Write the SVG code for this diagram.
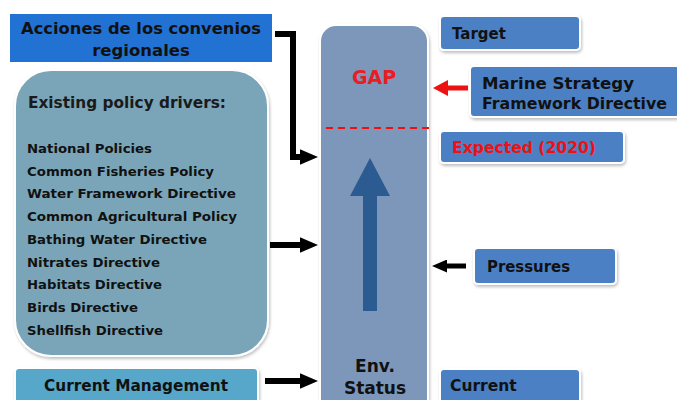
<svg xmlns="http://www.w3.org/2000/svg" width="677" height="400" viewBox="0 0 677 400">
<defs>
<filter id="sh" x="-10%" y="-10%" width="120%" height="130%">
<feDropShadow dx="1" dy="2" stdDeviation="1.5" flood-color="#000" flood-opacity="0.25"/>
</filter>
<marker id="ab" viewBox="0 0 3 2.6" markerWidth="3" markerHeight="2.6" refX="0" refY="1.3" orient="auto" markerUnits="strokeWidth">
<path d="M0,0 L3,1.3 L0,2.6 Z" fill="#000"/>
</marker>
<marker id="ar" viewBox="0 0 3 3.2" markerWidth="3" markerHeight="3.2" refX="0" refY="1.6" orient="auto" markerUnits="strokeWidth">
<path d="M0,0 L3,1.6 L0,3.2 Z" fill="#ee1111"/>
</marker>
<style>
.t{font-family:"DejaVu Sans",Verdana,sans-serif;font-weight:bold;fill:#111}
.box{stroke:#fff;stroke-width:2;filter:url(#sh)}
.rb{fill:#4b80c5}
.c{fill:none;stroke:#000;stroke-width:6}
</style>
</defs>
<rect width="677" height="400" fill="#fff"/>
<g id="acciones">
<rect x="10" y="14" width="262" height="48" fill="#2272d4"/>
<text class="t" x="141" y="34" font-size="16.5" text-anchor="middle" textLength="240" lengthAdjust="spacingAndGlyphs">Acciones de los convenios</text>
<text class="t" x="141" y="56" font-size="16.5" text-anchor="middle">regionales</text>
</g>
<g id="drivers">
<rect class="box" x="15" y="70" width="253" height="286" rx="36" fill="#7aa5b8"/>
<text x="28" y="108" font-family="DejaVu Sans,Verdana,sans-serif" font-weight="bold" font-size="16" fill="#1a1a1a" textLength="198" lengthAdjust="spacingAndGlyphs">Existing policy drivers:</text>
<g class="t" font-size="13">
<text x="27" y="153" textLength="125" lengthAdjust="spacingAndGlyphs">National Policies</text>
<text x="27" y="176" textLength="187" lengthAdjust="spacingAndGlyphs">Common Fisheries Policy</text>
<text x="27" y="198" textLength="209" lengthAdjust="spacingAndGlyphs">Water Framework Directive</text>
<text x="27" y="221" textLength="210" lengthAdjust="spacingAndGlyphs">Common Agricultural Policy</text>
<text x="27" y="244" textLength="180" lengthAdjust="spacingAndGlyphs">Bathing Water Directive</text>
<text x="27" y="267" textLength="133" lengthAdjust="spacingAndGlyphs">Nitrates Directive</text>
<text x="27" y="289" textLength="135" lengthAdjust="spacingAndGlyphs">Habitats Directive</text>
<text x="27" y="312" textLength="111" lengthAdjust="spacingAndGlyphs">Birds Directive</text>
<text x="27" y="335" textLength="136" lengthAdjust="spacingAndGlyphs">Shellfish Directive</text>
</g>
</g>
<g id="current-management">
<rect class="box" x="15" y="368" width="243" height="40" rx="4" fill="#56a7c9"/>
<text class="t" x="136" y="391" font-size="15.5" text-anchor="middle" textLength="184" lengthAdjust="spacingAndGlyphs">Current Management</text>
</g>
<g id="env-status">
<rect class="box" x="320" y="25" width="108" height="395" rx="16" fill="#7c97b9"/>
<text x="374" y="84" font-family="DejaVu Sans,Verdana,sans-serif" font-weight="bold" font-size="19" fill="#ea1c24" text-anchor="middle">GAP</text>
<line x1="326" y1="128" x2="431" y2="128" stroke="#ee1111" stroke-width="2" stroke-dasharray="7,5"/>
<path d="M370,158 L390,196 L377,196 L377,311 L363,311 L363,196 L350,196 Z" fill="#2b5b91"/>
<text class="t" x="375" y="372" font-size="17" text-anchor="middle">Env.</text>
<text class="t" x="375" y="394" font-size="17" text-anchor="middle">Status</text>
</g>
<g id="target">
<rect class="box rb" x="440" y="16" width="140" height="34" rx="4"/>
<text class="t" x="452" y="39" font-size="15">Target</text>
</g>
<g id="msfd">
<rect class="box rb" x="470" y="66" width="210" height="51" rx="4"/>
<text class="t" x="482" y="89" font-size="15" textLength="152" lengthAdjust="spacingAndGlyphs">Marine Strategy</text>
<text class="t" x="482" y="109" font-size="15" textLength="185" lengthAdjust="spacingAndGlyphs">Framework Directive</text>
</g>
<g id="expected">
<rect class="box rb" x="440" y="131" width="184" height="32" rx="4"/>
<text x="452" y="153" font-family="DejaVu Sans,Verdana,sans-serif" font-weight="bold" font-size="15" fill="#ee1111" textLength="144" lengthAdjust="spacingAndGlyphs">Expected (2020)</text>
</g>
<g id="pressures">
<rect class="box rb" x="474" y="248" width="142" height="36" rx="4"/>
<text class="t" x="487" y="272" font-size="15" textLength="83" lengthAdjust="spacingAndGlyphs">Pressures</text>
</g>
<g id="current">
<rect class="box rb" x="440" y="369" width="140" height="40" rx="4"/>
<text class="t" x="450" y="391" font-size="15.5">Current</text>
</g>
<g id="connectors">
<path class="c" d="M275,34 L293,34 L293,157 L300,157" marker-end="url(#ab)"/>
<path class="c" d="M270,245 L300,245" marker-end="url(#ab)"/>
<path class="c" d="M265,381 L300,381" marker-end="url(#ab)"/>
<path d="M468,88 L448,88" fill="none" stroke="#ee1111" stroke-width="5" marker-end="url(#ar)"/>
<path d="M466,266 L447,266" fill="none" stroke="#000" stroke-width="5" marker-end="url(#ab)"/>
</g>
</svg>
